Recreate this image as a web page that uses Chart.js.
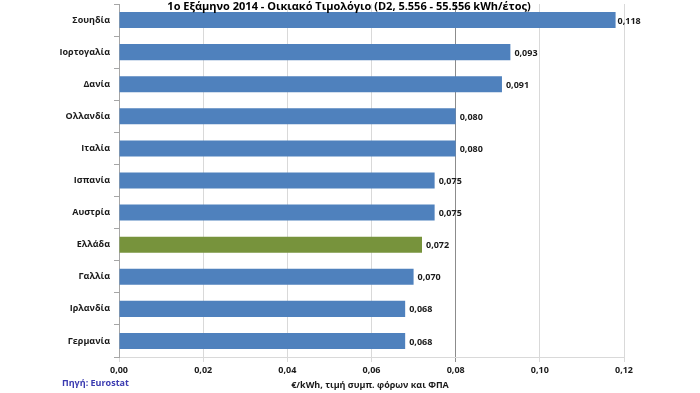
<!DOCTYPE html>
<html>
<head>
<meta charset="utf-8">
<script src="https://cdn.jsdelivr.net/npm/chart.js@4"></script>
<style>
  html, body { margin: 0; padding: 0; background: #fff; }
  #wrap { position: relative; width: 700px; height: 393px; }
</style>
</head>
<body>
<div id="wrap"><canvas id="barChart" width="700" height="393"></canvas></div>
<script>
/************************ DATA ************************** */
const countries = [
  "Σουηδία", "Ιορτογαλία", "Δανία", "Ολλανδία", "Ιταλία", "Ισπανία",
  "Αυστρία", "Ελλάδα", "Γαλλία", "Ιρλανδία", "Γερμανία",
];
const prices = [0.118, 0.093, 0.091, 0.080, 0.080, 0.075, 0.075, 0.072, 0.070, 0.068, 0.068];
const xTicks = [0, 0.02, 0.04, 0.06, 0.08, 0.10, 0.12];

const titleText = "1ο Εξάμηνο 2014 - Οικιακό Τιμολόγιο (D2, 5.556 - 55.556 kWh/έτος)";
const axisTitle = "€/kWh, τιμή συμπ. φόρων και ΦΠΑ";
const sourceText = "Πηγή: Eurostat";

const FONT = "'Open Sans', sans-serif";
const barColors = countries.map((c) => (c == "Ελλάδα" ? "#77933c" : "#4f81bd"));

/************************ PLUGINS ************************** */
// value labels at the end of each bar + title + source
const extras = {
  id: "extras",
  afterDatasetsDraw(chart) {
    const ctx = chart.ctx;
    const meta = chart.getDatasetMeta(0);
    ctx.save();
    ctx.font = "bold 9px " + FONT;
    ctx.fillStyle = "#1a1a1a";
    ctx.textAlign = "left";
    ctx.textBaseline = "middle";
    meta.data.forEach((bar, i) => {
      let txt = prices[i].toFixed(3).replace(".", ",");
      ctx.fillText(txt, bar.x + (i == 0 ? 2 : 4), bar.y + 1);
    });
    ctx.restore();
  },
  afterDraw(chart) {
    const ctx = chart.ctx;
    ctx.save();
    ctx.textBaseline = "middle";
    ctx.textAlign = "center";
    ctx.font = "bold 11px " + FONT;
    ctx.fillStyle = "#000";
    ctx.fillText(titleText, 349, 7);
    ctx.font = "bold 9px " + FONT;
    ctx.fillStyle = "#1a1a1a";
    ctx.fillText(axisTitle, 370, 385);
    ctx.textAlign = "left";
    ctx.fillStyle = "#3a3ab0";
    ctx.fillText(sourceText, 62, 383);
    ctx.restore();
  },
};

/************************ CHART ************************** */
const ctx = document.getElementById("barChart");
const config = {
  type: "bar",
  data: {
    labels: countries,
    datasets: [
      {
        data: prices,
        backgroundColor: barColors,
        borderWidth: 0,
        barPercentage: 0.5,
        categoryPercentage: 1,
      },
    ],
  },
  options: {
    indexAxis: "y",
    responsive: false,
    animation: false,
    layout: { padding: { left: 0, right: 76, top: 4, bottom: 0 } },
    scales: {
      x: {
        min: 0,
        max: 0.12,
        afterBuildTicks: (scale) => {
          scale.ticks = xTicks.map((v) => ({ value: v }));
        },
        afterFit: (scale) => {
          scale.height = 36;
        },
        ticks: {
          padding: 3,
          color: "#1a1a1a",
          font: { family: FONT, size: 9, weight: "bold" },
          callback: (v) => Number(v).toFixed(2).replace(".", ","),
        },
        grid: {
          color: (c) => (c.tick && Math.abs(c.tick.value - 0.08) < 1e-6 ? "#8c8c8c" : "#d9d9d9"),
          tickLength: 5,
        },
        border: { color: "#d9d9d9" },
      },
      y: {
        afterFit: (scale) => {
          scale.width = 119;
          scale.paddingTop = 0;
          scale.paddingBottom = 0;
        },
        ticks: {
          padding: 4,
          color: "#1a1a1a",
          font: { family: FONT, size: 9, weight: "bold" },
        },
        grid: {
          offset: true,
          drawOnChartArea: false,
          tickLength: 5,
          color: "#a6a6a6",
        },
        border: { color: "#a6a6a6" },
      },
    },
    plugins: {
      legend: { display: false },
      tooltip: { enabled: false },
    },
  },
  plugins: [extras],
};

let myBarChart = new Chart(ctx, config);
</script>
</body>
</html>
